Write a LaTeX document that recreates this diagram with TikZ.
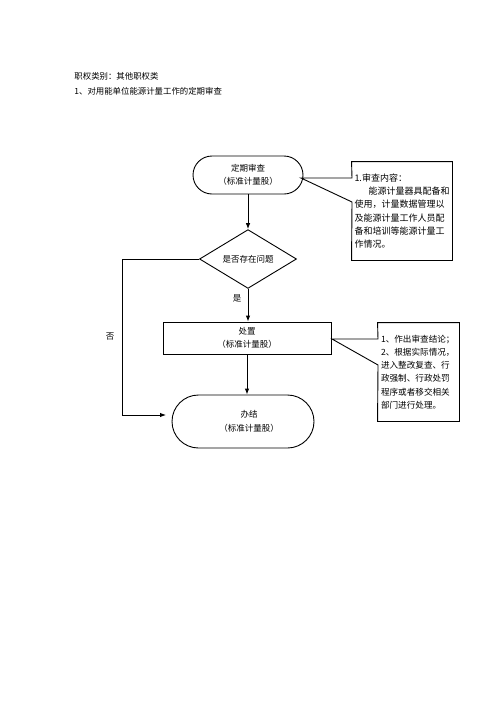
\documentclass[tikz,border=0pt]{standalone}
\usepackage{fontspec}
\setmainfont{Noto Sans CJK SC}
\usetikzlibrary{shapes.geometric,arrows.meta}
\begin{document}
\begin{tikzpicture}[x=1pt,y=-1pt,line width=0.9pt,
  arr/.style={-{Latex[length=6pt,width=4.5pt]}},
  nodetext/.style={font=\fontsize{8.5}{13.5}\selectfont, align=center},
  headtext/.style={font=\fontsize{8.4}{10}\selectfont, anchor=west, inner sep=0pt},
  stadium/.style={draw, nodetext, inner sep=0pt},
  calltext/.style={align=left, inner sep=0pt}]
\useasboundingbox[fill=white] (0,0) rectangle (496,702);

% header
\node[headtext] (h1) at (74,76) {职权类别：其他职权类};
\node[headtext] (h2) at (74,91) {1、对用能单位能源计量工作的定期审查};

% main flow
\node[stadium, minimum width=110pt, minimum height=38pt, rounded corners=19pt] (start) at (248,175) {定期审查\\（标准计量股）};
\node[draw, diamond, nodetext, inner sep=0pt, minimum width=97pt, minimum height=40pt] (dia) at (248,259) {是否存在问题};
\node[draw, nodetext, inner sep=0pt, minimum width=168pt, minimum height=32pt] (proc) at (247,338) {处置\\（标准计量股）};
\node[stadium, minimum width=142pt, minimum height=53pt, rounded corners=26.5pt] (end) at (243,421.5) {\hspace*{12pt}办结\\\hspace*{12pt}（标准计量股）};

\node[nodetext, inner sep=0pt] (yes) at (237,298) {是};
\node[nodetext, inner sep=0pt] (no) at (110,337) {否};

\draw[arr] (start.south) -- (dia.north);
\draw[arr] (dia.south) -- (dia.south |- proc.north);
\draw[arr] (proc.south) -- (proc.south |- end.north);
\coordinate (nocorner) at (122,415);
\coordinate (noend) at (166,415);
\draw[arr] (dia.west) -| (nocorner) -- (noend);

% callout 1
\node[calltext, minimum width=100pt, minimum height=98pt, text width=95pt,
      font=\fontsize{9}{13.3}\selectfont] (c1) at (402,211)
  {1.审查内容：\\\hspace*{14pt}能源计量器具配备和\\使用，计量数据管理以\\及能源计量工作人员配\\备和培训等能源计量工\\作情况。};
\coordinate (c1a) at (352,178);
\coordinate (c1b) at (352,202);
\coordinate (p1) at (301,178);
\draw (c1b) -- (c1.south west) -- (c1.south east) -- (c1.north east) -- (c1.north west) -- (c1a) -- (p1) -- cycle;

% callout 2
\node[calltext, minimum width=81pt, minimum height=98pt, text width=75pt,
      font=\fontsize{8.6}{13.3}\selectfont] (c2) at (418.5,372)
  {1、作出审查结论；\\2、根据实际情况，\\进入整改复查、行\\政强制、行政处罚\\程序或者移交相关\\部门进行处理。};
\coordinate (c2a) at (378,339);
\coordinate (c2b) at (378,365);
\coordinate (p2) at (332,339);
\draw (c2b) -- (c2.south west) -- (c2.south east) -- (c2.north east) -- (c2.north west) -- (c2a) -- (p2) -- cycle;
\end{tikzpicture}
\end{document}
